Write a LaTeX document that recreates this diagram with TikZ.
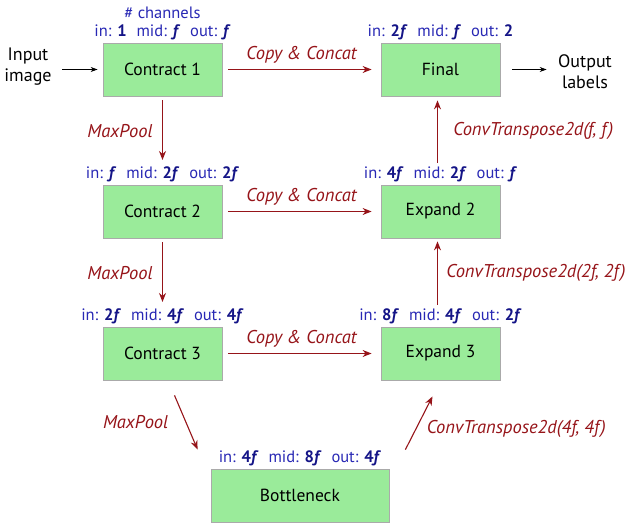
\documentclass[tikz,border=0pt]{standalone}
\usepackage{fontspec}
\setmainfont{PT Sans}
\usetikzlibrary{arrows.meta,calc}

\definecolor{boxgreen}{RGB}{154,235,154}
\definecolor{boxedge}{RGB}{170,170,170}
\definecolor{chanblue}{RGB}{40,40,180}
\definecolor{valblue}{RGB}{20,20,135}
\definecolor{flowred}{RGB}{150,20,25}

\newcommand{\val}[1]{\textcolor{valblue}{\textbf{#1}}}
\newcommand{\fv}{\textit{f}}
\newcommand{\gap}{\hspace{0.6em}}

\tikzset{
    block/.style={draw=boxedge, line width=0.8pt, fill=boxgreen, minimum width=119pt,
        minimum height=53pt, font=\fontsize{17.5}{20}\selectfont},
    chan/.style={text=chanblue, inner sep=1pt, font=\fontsize{16.5}{19}\selectfont},
    flow/.style={draw=flowred, line width=1.1pt, -{Stealth[length=9pt,width=7pt]}},
    flowlabel/.style={text=flowred, font=\fontsize{18.5}{21}\selectfont\itshape},
    io/.style={line width=0.7pt, -{Stealth[length=7pt,width=5pt]}},
    iolabel/.style={align=center, font=\fontsize{18}{21}\selectfont}
}

\begin{document}
\begin{tikzpicture}[x=1pt,y=1pt]

    \useasboundingbox (0,0) rectangle (633,524);

    % Define the centres of the blocks
    \coordinate (C1) at (162.5,454.5);
    \coordinate (C2) at (162.5,312.5);
    \coordinate (C3) at (162.5,170.5);
    \coordinate (F)  at (440.5,454.5);
    \coordinate (E2) at (440.5,312.5);
    \coordinate (E3) at (440.5,170.5);
    \coordinate (B)  at (300,28.5);

    % Draw the blocks
    \node[block] (c1) at (C1) {Contract 1};
    \node[block] (c2) at (C2) {Contract 2};
    \node[block] (c3) at (C3) {Contract 3};
    \node[block] (fin) at (F) {Final};
    \node[block] (e2) at (E2) {Expand 2};
    \node[block] (e3) at (E3) {Expand 3};
    \node[block, minimum width=178pt] (bn) at (B) {Bottleneck};

    % Channel counts above each block
    \node[chan] (c1ch) at (c1.north) [above=1pt] {in: \val{1}\gap mid: \val{\fv}\gap out: \val{\fv}};
    \node[chan] (c2ch) at (c2.north) [above=1pt] {in: \val{\fv}\gap mid: \val{2\fv}\gap out: \val{2\fv}};
    \node[chan] (c3ch) at (c3.north) [above=1pt] {in: \val{2\fv}\gap mid: \val{4\fv}\gap out: \val{4\fv}};
    \node[chan] (finch) at (fin.north) [above=1pt] {in: \val{2\fv}\gap mid: \val{\fv}\gap out: \val{2}};
    \node[chan] (e2ch) at (e2.north) [above=1pt] {in: \val{4\fv}\gap mid: \val{2\fv}\gap out: \val{\fv}};
    \node[chan] (e3ch) at (e3.north) [above=1pt] {in: \val{8\fv}\gap mid: \val{4\fv}\gap out: \val{2\fv}};
    \node[chan] (bnch) at (bn.north) [above=1pt] {in: \val{4\fv}\gap mid: \val{8\fv}\gap out: \val{4\fv}};
    \node[chan] (title) at (c1ch.north) [above=4pt] {\# channels};

    % Input and output
    \node[iolabel] (input) at (28,457) {Input\\image};
    \node[iolabel] (output) at (585,452) {Output\\labels};
    \draw[io, shorten <=7pt, shorten >=5pt] (input.east |- c1.west) -- (c1.west);
    \draw[io, shorten <=12pt, shorten >=8pt] (fin.east) -- (fin.east -| output.west);

    % Skip connections
    \draw[flow, shorten <=6pt, shorten >=9pt] (c1) -- node[flowlabel, above=2pt] {Copy \& Concat} (fin);
    \draw[flow, shorten <=6pt, shorten >=9pt] (c2) -- node[flowlabel, above=2pt] {Copy \& Concat} (e2);
    \draw[flow, shorten <=6pt, shorten >=9pt] (c3) -- node[flowlabel, above=2pt] {Copy \& Concat} (e3);

    % Down path
    \draw[flow, shorten <=4pt, shorten >=6pt] (c1.south) -- node[flowlabel, left=6pt] {MaxPool} (c1.south |- c2ch.north);
    \draw[flow, shorten <=4pt, shorten >=6pt] (c2.south) -- node[flowlabel, left=6pt] {MaxPool} (c2.south |- c3ch.north);
    \draw[flow] ($(c3.south)+(12,-15)$) -- node[flowlabel, left=14pt] {MaxPool} ($(bn.north west)+(-13,19)$);

    % Up path
    \draw[flow] ($(bn.north east)+(16,19)$) -- node[flowlabel, right=4pt, yshift=-6pt] {ConvTranspose2d(4\fv, 4\fv)} ($(e3.south)+(-8,-16)$);
    \draw[flow, shorten <=3pt, shorten >=3pt] ($(e3ch.north -| e3.south)+(-3,0)$) -- node[flowlabel, right=5pt] {ConvTranspose2d(2\fv, 2\fv)} ($(e2.south)+(-3,0)$);
    \draw[flow, shorten <=3pt, shorten >=4pt] ($(e2ch.north -| e2.south)+(-3,0)$) -- node[flowlabel, right=12pt] {ConvTranspose2d(\fv, \fv)} ($(fin.south)+(-3,0)$);

\end{tikzpicture}
\end{document}
